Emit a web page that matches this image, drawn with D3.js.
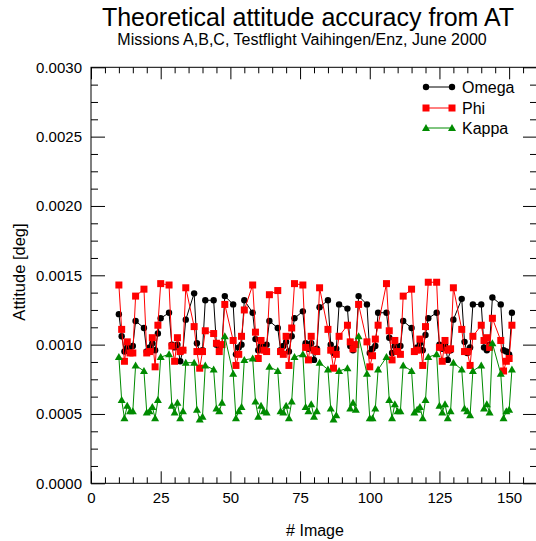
<!DOCTYPE html>
<html><head><meta charset="utf-8">
<script src="https://cdn.jsdelivr.net/npm/d3@7"></script>
<style>body{margin:0;background:#fff} svg{display:block} text{font-family:"Liberation Sans",Arial,Helvetica,sans-serif;fill:#000}</style>
</head><body><svg id="c" width="536" height="541"></svg>
<script>
// Image numbers (three missions, each 3 strips of 7 and 3 strips of 5 images)
const images = [10,11,12,13,14,15,16, 19,20,21,22,23,24,25, 28,29,30,31,32,33,34,
  37,38,39,40,41, 44,45,46,47,48, 51,52,53,54,55,
  58,59,60,61,62,63,64, 67,68,69,70,71,72,73, 76,77,78,79,80,81,82,
  85,86,87,88,89, 92,93,94,95,96, 99,100,101,102,103,
  106,107,108,109,110,111,112, 115,116,117,118,119,120,121, 124,125,126,127,128,129,130,
  133,134,135,136,137, 140,141,142,143,144, 147,148,149,150,151];
// values in 1e-3 deg
const omega = [1.22,1.06,0.95,0.98,0.98,0.99,1.17, 1.12,0.95,0.98,1.01,0.96,1.08,1.19, 1.23,1.00,0.98,1.00,0.88,0.96,1.18,
  1.37,1.01,0.95,0.96,1.32, 1.32,1.00,0.97,1.00,1.35, 1.29,0.93,0.98,1.00,1.32,
  1.23,1.04,0.96,0.99,0.97,1.00,1.17, 1.12,0.96,0.99,1.02,0.95,1.06,1.19, 1.24,1.01,0.97,1.01,0.89,0.97,1.27,
  1.32,1.00,0.94,0.97,1.29, 1.26,0.99,0.96,1.00,1.35, 1.29,0.94,0.97,0.99,1.23,
  1.23,1.05,0.94,0.99,0.97,0.99,1.17, 1.12,0.95,0.98,1.01,0.96,1.07,1.19, 1.23,1.00,0.97,1.00,0.89,0.96,1.18,
  1.33,1.02,0.94,0.98,1.29, 1.29,0.98,0.96,1.00,1.34, 1.29,0.96,0.95,0.93,1.23];
const phi = [1.43,1.11,0.88,1.02,0.94,0.94,1.35, 1.40,0.94,0.95,1.05,0.84,1.14,1.44, 1.43,0.99,0.88,1.05,0.95,0.96,1.41,
  1.13,0.95,0.83,0.95,1.10, 1.08,1.01,0.95,1.00,1.29, 1.03,0.85,0.93,1.06,1.25,
  1.43,1.09,0.90,1.03,0.96,0.95,1.36, 1.39,0.95,0.93,1.06,0.85,1.12,1.44, 1.43,0.98,0.89,1.06,0.96,0.95,1.41,
  1.11,0.96,0.83,0.93,1.06, 1.14,1.02,0.97,1.00,1.29, 1.02,0.84,0.92,1.04,1.14,
  1.44,1.10,0.89,1.03,0.95,0.93,1.35, 1.40,0.95,0.96,1.04,0.85,1.13,1.45, 1.45,0.98,0.88,1.03,0.96,0.97,1.41,
  1.11,0.95,0.95,0.85,1.06, 1.14,1.03,1.05,0.98,1.19, 1.03,0.81,0.88,0.90,1.14];
const kappa = [0.91,0.60,0.47,0.56,0.52,0.52,0.85, 0.81,0.51,0.52,0.55,0.47,0.60,0.91, 0.93,0.56,0.51,0.58,0.47,0.52,0.87,
  0.87,0.53,0.46,0.48,0.85, 0.82,0.54,0.52,0.58,1.06, 0.79,0.47,0.52,0.55,0.89,
  0.90,0.59,0.48,0.56,0.52,0.51,0.84, 0.81,0.52,0.51,0.56,0.47,0.59,0.91, 0.93,0.55,0.52,0.57,0.48,0.52,0.87,
  0.82,0.54,0.46,0.49,0.81, 0.83,0.54,0.58,0.53,1.06, 0.79,0.47,0.47,0.54,0.82,
  0.91,0.60,0.47,0.57,0.52,0.52,0.85, 0.81,0.51,0.53,0.55,0.47,0.60,0.91, 0.93,0.56,0.51,0.57,0.47,0.52,0.87,
  0.82,0.54,0.52,0.49,0.81, 0.85,0.54,0.57,0.51,1.01, 0.79,0.47,0.52,0.53,0.82];
const xTickLabels = [0,25,50,75,100,125,150];
const yTickLabels = [0,0.0005,0.0010,0.0015,0.0020,0.0025,0.0030];
const seriesNames = ["Omega","Phi","Kappa"];
const seriesColors = ["#000000","#ff0000","#008b00"];

const svg = d3.select("#c");
const L = 91, R = 537, T = 67.3, B = 483.3;
const x = d3.scaleLinear().domain([0,160]).range([L,R]);
const y = d3.scaleLinear().domain([0,0.003]).range([B,T]);
const fmtY = d3.format(".4f");

const xMinor = d3.range(0,161,5).filter(v=>v%25!==0);
const yMinor = d3.range(0,24).map(i=>i*0.000125).filter(v=>Math.abs(v/0.0005-Math.round(v/0.0005))>1e-6);

function styleAxis(g){ g.select(".domain").remove(); g.selectAll("line").attr("stroke","#000").attr("stroke-width",1); g.selectAll("text").attr("font-size",15).attr("font-family","Liberation Sans, Arial, sans-serif").attr("fill","#000"); }

svg.append("g").attr("transform",`translate(0,${B})`).call(d3.axisBottom(x).tickValues(xTickLabels).tickSize(-12).tickPadding(9).tickFormat(d3.format("d"))).call(styleAxis);
svg.append("g").attr("transform",`translate(0,${B})`).call(d3.axisBottom(x).tickValues(xMinor).tickSize(-6).tickFormat("")).call(styleAxis);
svg.append("g").attr("transform",`translate(0,${T})`).call(d3.axisTop(x).tickValues(xTickLabels).tickSize(-12).tickFormat("")).call(styleAxis);
svg.append("g").attr("transform",`translate(0,${T})`).call(d3.axisTop(x).tickValues(xMinor).tickSize(-6).tickFormat("")).call(styleAxis);
svg.append("g").attr("transform",`translate(${L},0)`).call(d3.axisLeft(y).tickValues(yTickLabels).tickSize(-14).tickPadding(9).tickFormat(fmtY)).call(styleAxis);
svg.append("g").attr("transform",`translate(${L},0)`).call(d3.axisLeft(y).tickValues(yMinor).tickSize(-7).tickFormat("")).call(styleAxis);
svg.append("g").attr("transform",`translate(${R},0)`).call(d3.axisRight(y).tickValues(yTickLabels).tickSize(-14).tickFormat("")).call(styleAxis);
svg.append("g").attr("transform",`translate(${R},0)`).call(d3.axisRight(y).tickValues(yMinor).tickSize(-7).tickFormat("")).call(styleAxis);

svg.append("rect").attr("x",L).attr("y",T).attr("width",R-L).attr("height",B-T).attr("fill","none").attr("stroke","#000").attr("stroke-width",1);

svg.append("text").attr("x",308).attr("y",26).attr("text-anchor","middle").attr("font-size",25).text("Theoretical attitude accuracy from AT");
svg.append("text").attr("x",302).attr("y",45).attr("text-anchor","middle").attr("font-size",16).text("Missions A,B,C, Testflight Vaihingen/Enz, June 2000");
svg.append("text").attr("x",315).attr("y",536).attr("text-anchor","middle").attr("font-size",16).text("# Image");
svg.append("text").attr("transform","translate(25,272) rotate(-90)").attr("text-anchor","middle").attr("font-size",16.5).text("Attitude [deg]");

const allSeries = [omega,phi,kappa];
const line = d3.line().x(d=>x(d[0])).y(d=>y(d[1]*0.001));
function marker(g,i,cx,cy){
  const c = seriesColors[i];
  if(i===0) g.append("circle").attr("cx",cx).attr("cy",cy).attr("r",3.2).attr("fill",c);
  else if(i===1) g.append("rect").attr("x",cx-3.5).attr("y",cy-3.5).attr("width",7).attr("height",7).attr("fill",c);
  else g.append("path").attr("d",`M${cx-4},${cy+3} L${cx+4},${cy+3} L${cx},${cy-4} Z`).attr("fill",c);
}
allSeries.forEach((vals,i)=>{
  const pts = images.map((im,k)=>[im,vals[k]]);
  const g = svg.append("g");
  g.append("path").attr("d",line(pts)).attr("fill","none").attr("stroke",seriesColors[i]).attr("stroke-width",1);
  pts.forEach(p=>marker(g,i,x(p[0]),y(p[1]*0.001)));
});

const legY = [87,108,128];
seriesNames.forEach((n,i)=>{
  const g = svg.append("g");
  g.append("line").attr("x1",426).attr("x2",452).attr("y1",legY[i]).attr("y2",legY[i]).attr("stroke",seriesColors[i]).attr("stroke-width",1);
  marker(g,i,426,legY[i]); marker(g,i,452,legY[i]);
  g.append("text").attr("x",462).attr("y",legY[i]+5.5).attr("font-size",16).text(n);
});
</script></body></html>
